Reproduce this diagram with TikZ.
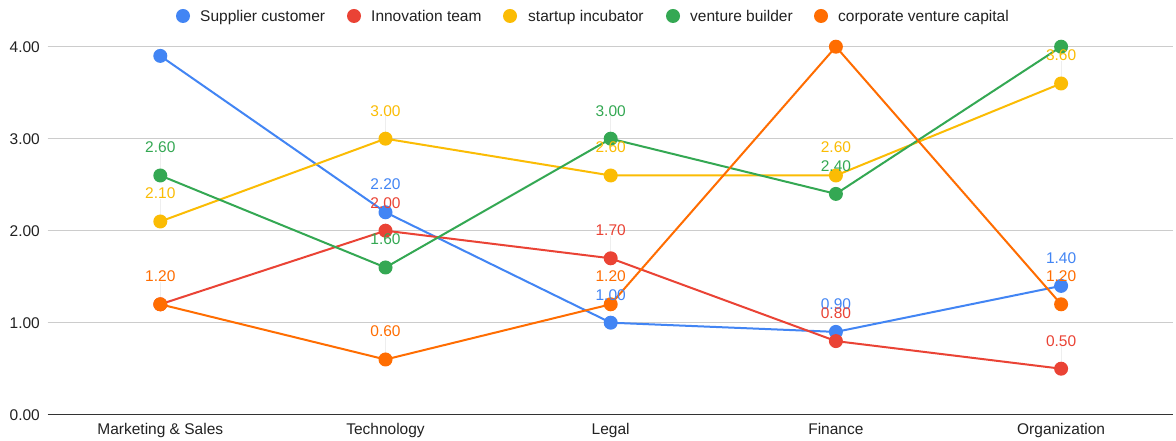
\documentclass[tikz,border=0pt]{standalone}
\usepackage{fontspec}
\setmainfont{Liberation Sans}
\definecolor{sblue}{HTML}{4285F4}
\definecolor{sred}{HTML}{EA4335}
\definecolor{syellow}{HTML}{FBBC04}
\definecolor{sgreen}{HTML}{34A853}
\definecolor{sorange}{HTML}{FF6D01}
\definecolor{gridgray}{HTML}{CCCCCC}
\definecolor{axisgray}{HTML}{333333}
\definecolor{txt}{HTML}{222222}
\definecolor{leadgray}{HTML}{EEEEEE}
\pgfdeclarelayer{bg}
\pgfdeclarelayer{paper}
\pgfsetlayers{paper,bg,main}
\tikzset{
  dot/.style={circle, inner sep=0pt, minimum size=14pt, fill=#1},
  vlabel/.style={text=#1, inner sep=0pt, yshift=28pt},
  series/.style={draw=#1, line width=2pt, line join=round},
  gridline/.style={draw=gridgray, line width=1pt},
  axisline/.style={draw=axisgray, line width=1.3pt},
  ylab/.style={anchor=east, inner sep=0pt, text=txt},
  catlab/.style={anchor=base, inner sep=0pt, text=txt},
  legtext/.style={anchor=base west, inner sep=0pt, text=txt},
  leader/.style={draw=leadgray, line width=0.6pt}
}
\begin{document}
\begin{tikzpicture}[x=1pt, y=1pt, font=\fontsize{15.5}{17}\selectfont]
\useasboundingbox (0,0) rectangle (1176,441);
\begin{pgfonlayer}{paper}
\fill[white] (0,0) rectangle (1176,441);
\end{pgfonlayer}

% legend
\node[dot=sblue] (lgb) at (183,425) {};
\node[legtext] (lgbt) at (200,419.5) {Supplier customer};
\node[dot=sred] (lgr) at (354,425) {};
\node[legtext] (lgrt) at (371,419.5) {Innovation team};
\node[dot=syellow] (lgy) at (510,425) {};
\node[legtext] (lgyt) at (528,419.5) {startup incubator};
\node[dot=sgreen] (lgg) at (673,425) {};
\node[legtext] (lggt) at (690,419.5) {venture builder};
\node[dot=sorange] (lgo) at (821,425) {};
\node[legtext] (lgot) at (838,419.5) {corporate venture capital};

% axes
\begin{pgfonlayer}{bg}
\foreach \v in {1,2,3,4} {
  \draw[gridline] (47.5,{26.3+92*\v}) -- (1173,{26.3+92*\v});
}
\draw[axisline] (47.5,26.3) -- (1173,26.3);
\end{pgfonlayer}
\foreach \v in {0,1,2,3,4} {
  \node[ylab] (y\v) at (40,{26.3+92*\v}) {\v.00};
}

\node[catlab] (c0) at (160.3,6.5) {Marketing \& Sales};
\node[catlab] (c1) at (385.5,6.5) {Technology};
\node[catlab] (c2) at (610.7,6.5) {Legal};
\node[catlab] (c3) at (835.9,6.5) {Finance};
\node[catlab] (c4) at (1061.1,6.5) {Organization};

\begin{scope}[xshift=160.3pt, yshift=26.3pt, x=225.2pt, y=92pt]
% points
\node[dot=sblue] (b0) at (0,3.9) {};
\node[dot=sblue] (b1) at (1,2.2) {};
\node[dot=sblue] (b2) at (2,1.0) {};
\node[dot=sblue] (b3) at (3,0.9) {};
\node[dot=sblue] (b4) at (4,1.4) {};
\node[dot=sred] (r0) at (0,1.2) {};
\node[dot=sred] (r1) at (1,2.0) {};
\node[dot=sred] (r2) at (2,1.7) {};
\node[dot=sred] (r3) at (3,0.8) {};
\node[dot=sred] (r4) at (4,0.5) {};
\node[dot=syellow] (s0) at (0,2.1) {};
\node[dot=syellow] (s1) at (1,3.0) {};
\node[dot=syellow] (s2) at (2,2.6) {};
\node[dot=syellow] (s3) at (3,2.6) {};
\node[dot=syellow] (s4) at (4,3.6) {};
\node[dot=sgreen] (g0) at (0,2.6) {};
\node[dot=sgreen] (g1) at (1,1.6) {};
\node[dot=sgreen] (g2) at (2,3.0) {};
\node[dot=sgreen] (g3) at (3,2.4) {};
\node[dot=sgreen] (g4) at (4,4.0) {};
\node[dot=sorange] (o0) at (0,1.2) {};
\node[dot=sorange] (o1) at (1,0.6) {};
\node[dot=sorange] (o2) at (2,1.2) {};
\node[dot=sorange] (o3) at (3,4.0) {};
\node[dot=sorange] (o4) at (4,1.2) {};

% value labels
\node[vlabel=sgreen] (lg0) at (0,2.6) {2.60};
\node[vlabel=syellow] (ls0) at (0,2.1) {2.10};
\node[vlabel=sorange] (lo0) at (0,1.2) {1.20};
\node[vlabel=syellow] (ls1) at (1,3.0) {3.00};
\node[vlabel=sblue] (lb1) at (1,2.2) {2.20};
\node[vlabel=sred] (lr1) at (1,2.0) {2.00};
\node[vlabel=sgreen] (lg1) at (1,1.6) {1.60};
\node[vlabel=sorange] (lo1) at (1,0.6) {0.60};
\node[vlabel=sgreen] (lg2) at (2,3.0) {3.00};
\node[vlabel=syellow] (ls2) at (2,2.6) {2.60};
\node[vlabel=sred] (lr2) at (2,1.7) {1.70};
\node[vlabel=sorange] (lo2) at (2,1.2) {1.20};
\node[vlabel=sblue] (lb2) at (2,1.0) {1.00};
\node[vlabel=syellow] (ls3) at (3,2.6) {2.60};
\node[vlabel=sgreen] (lg3) at (3,2.4) {2.40};
\node[vlabel=sblue] (lb3) at (3,0.9) {0.90};
\node[vlabel=sred] (lr3) at (3,0.8) {0.80};
\node[vlabel=syellow] (ls4) at (4,3.6) {3.60};
\node[vlabel=sblue] (lb4) at (4,1.4) {1.40};
\node[vlabel=sorange] (lo4) at (4,1.2) {1.20};
\node[vlabel=sred] (lr4) at (4,0.5) {0.50};

% lines
\begin{pgfonlayer}{bg}
\draw[leader] (g0.center) -- (lg0.south);
\draw[leader] (s0.center) -- (ls0.south);
\draw[leader] (o0.center) -- (lo0.south);
\draw[leader] (s1.center) -- (ls1.south);
\draw[leader] (o1.center) -- (lo1.south);
\draw[leader] (g2.center) -- (lg2.south);
\draw[leader] (r2.center) -- (lr2.south);
\draw[leader] (r4.center) -- (lr4.south);
\draw[leader] (s4.center) -- (ls4.south);
\draw[series=sblue] (b0.center) -- (b1.center) -- (b2.center) -- (b3.center) -- (b4.center);
\draw[series=sred] (r0.center) -- (r1.center) -- (r2.center) -- (r3.center) -- (r4.center);
\draw[series=syellow] (s0.center) -- (s1.center) -- (s2.center) -- (s3.center) -- (s4.center);
\draw[series=sgreen] (g0.center) -- (g1.center) -- (g2.center) -- (g3.center) -- (g4.center);
\draw[series=sorange] (o0.center) -- (o1.center) -- (o2.center) -- (o3.center) -- (o4.center);
\end{pgfonlayer}
\end{scope}
\end{tikzpicture}
\end{document}
